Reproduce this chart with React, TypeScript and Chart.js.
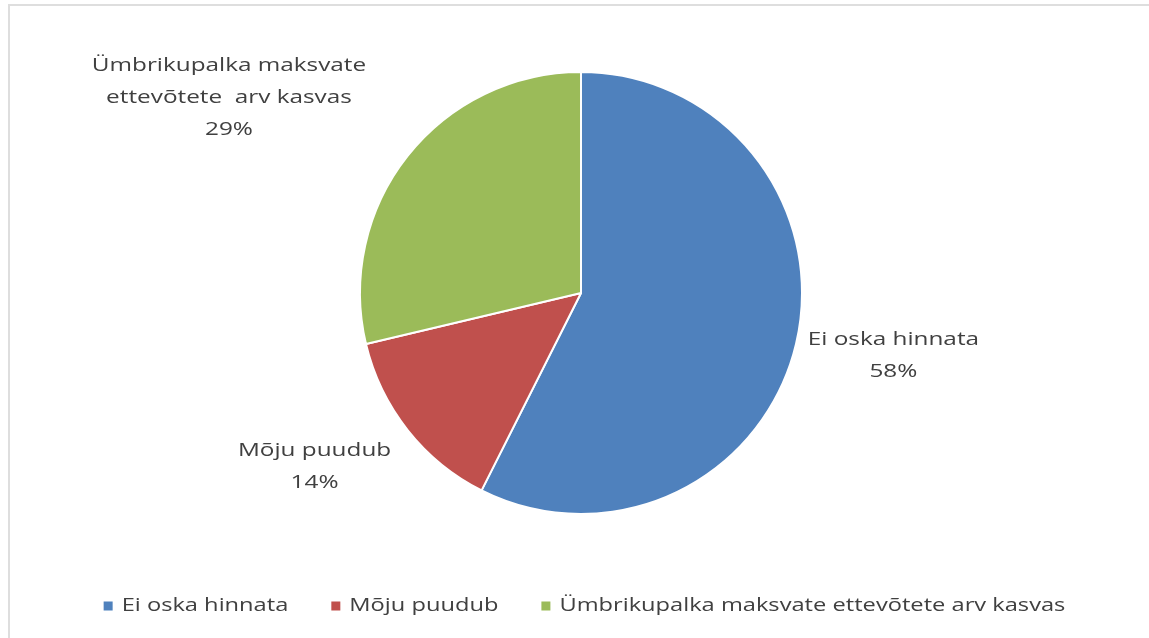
import React, { useEffect, useRef } from "react";
import { Chart, registerables } from "chart.js";

Chart.register(...registerables);

const categories = [
  "Ei oska hinnata",
  "Mõju puudub",
  "Ümbrikupalka maksvate ettevõtete arv kasvas",
];
const labelLines = [
  ["Ei oska hinnata"],
  ["Mõju puudub"],
  ["Ümbrikupalka maksvate", "ettevõtete  arv kasvas"],
];
const values = [58, 14, 29];
const colors = ["#4F81BD", "#C0504D", "#9BBB59"];

const FONT = '19px "Open Sans", sans-serif';
const LABEL_XS = 1.28;
const LEGEND_XS = 1.245;
const TEXT_COLOR = "#404040";
const LINE_H = 32;
const GAP = 12;
const labelNudgeX = [0, -7, -32];

function drawText(
  ctx: CanvasRenderingContext2D,
  text: string,
  x: number,
  y: number,
  align: CanvasTextAlign,
  xs: number
) {
  ctx.save();
  ctx.translate(x, y);
  ctx.scale(xs, 1);
  ctx.textAlign = align;
  ctx.textBaseline = "middle";
  ctx.fillText(text, 0, 0);
  ctx.restore();
}

const framePlugin = {
  id: "frame",
  beforeDraw(chart: any) {
    const ctx: CanvasRenderingContext2D = chart.ctx;
    ctx.save();
    ctx.fillStyle = "#ffffff";
    ctx.fillRect(0, 0, chart.width, chart.height);
    ctx.strokeStyle = "#dedede";
    ctx.lineWidth = 2;
    ctx.beginPath();
    ctx.moveTo(9, chart.height);
    ctx.lineTo(9, 5);
    ctx.lineTo(chart.width, 5);
    ctx.stroke();
    ctx.restore();
  },
};

const labelPlugin = {
  id: "outsideLabels",
  afterDatasetsDraw(chart: any) {
    const ctx: CanvasRenderingContext2D = chart.ctx;
    const meta = chart.getDatasetMeta(0);
    ctx.save();
    ctx.font = FONT;
    ctx.fillStyle = TEXT_COLOR;
    meta.data.forEach((arc: any, i: number) => {
      const { x, y, startAngle, endAngle, outerRadius } = arc.getProps(
        ["x", "y", "startAngle", "endAngle", "outerRadius"],
        true
      );
      const mid = (startAngle + endAngle) / 2;
      const dx = Math.cos(mid);
      const dy = Math.sin(mid);
      const px = x + dx * (outerRadius + GAP);
      const py = y + dy * (outerRadius + GAP);
      const lines = [...labelLines[i], `${values[i]}%`];
      const w = Math.max(...lines.map((l) => ctx.measureText(l).width * LABEL_XS));
      const h = lines.length * LINE_H;
      const cx = px + Math.sign(dx) * (w / 2) + labelNudgeX[i];
      const cy = py + Math.max(-1, Math.min(1, dy * 1.6)) * (h / 2) - 3;
      lines.forEach((l, k) => {
        drawText(ctx, l, cx, cy - h / 2 + LINE_H * (k + 0.5), "center", LABEL_XS);
      });
    });
    ctx.restore();
  },
};

const legendPlugin = {
  id: "bottomLegend",
  afterDraw(chart: any) {
    const ctx: CanvasRenderingContext2D = chart.ctx;
    ctx.save();
    ctx.font = FONT;
    const BOX = 9;
    const BOX_GAP = 9;
    const ITEM_GAP = 43;
    const widths = categories.map((c) => ctx.measureText(c).width * LEGEND_XS);
    const total =
      widths.reduce((a, b) => a + b, 0) +
      categories.length * (BOX + BOX_GAP) +
      ITEM_GAP * (categories.length - 1);
    let x = chart.width / 2 + 10 - total / 2;
    const y = 606;
    categories.forEach((c, i) => {
      ctx.fillStyle = colors[i];
      ctx.fillRect(x, y - BOX / 2, BOX, BOX);
      x += BOX + BOX_GAP;
      ctx.fillStyle = TEXT_COLOR;
      drawText(ctx, c, x, y, "left", LEGEND_XS);
      x += widths[i] + ITEM_GAP;
    });
    ctx.restore();
  },
};

export default function App() {
  const ref = useRef<HTMLCanvasElement | null>(null);
  useEffect(() => {
    if (!ref.current) return;
    const chart = new Chart(ref.current, {
      type: "pie",
      data: {
        labels: categories,
        datasets: [
          {
            data: values,
            backgroundColor: colors,
            borderColor: "#ffffff",
            borderWidth: 2,
          },
        ],
      },
      options: {
        responsive: false,
        animation: false,
        layout: { padding: { top: 71, bottom: 123, left: 13, right: 0 } },
        plugins: {
          legend: { display: false },
          tooltip: { enabled: false },
        },
      },
      plugins: [framePlugin, labelPlugin, legendPlugin],
    });
    return () => chart.destroy();
  }, []);

  return (
    <div
      style={{
        position: "fixed",
        left: 0,
        top: 0,
        width: 1149,
        height: 638,
        overflow: "hidden",
        background: "#ffffff",
      }}
    >
      <canvas
        ref={ref}
        width={1149}
        height={638}
        style={{ position: "absolute", left: 0, top: 0, width: 1149, height: 638 }}
      />
    </div>
  );
}
